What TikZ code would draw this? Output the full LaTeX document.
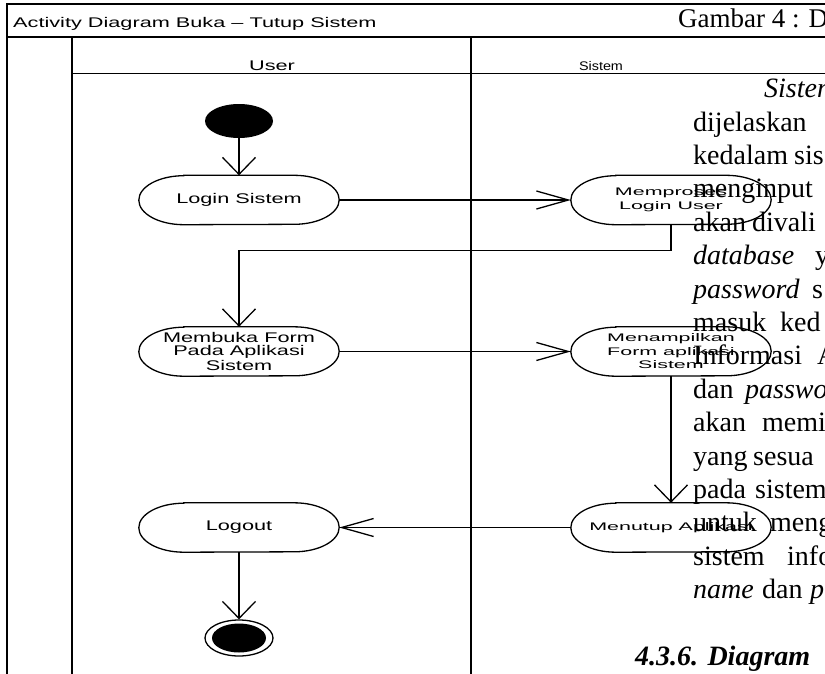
\documentclass[tikz,border=0pt]{standalone}
\usepackage{fontspec}
\setmainfont{Liberation Serif}
\newfontfamily\userfont[FakeStretch=1.55]{Liberation Sans}
\newfontfamily\sysfont[FakeStretch=1.95]{Liberation Sans}
\newfontfamily\headfont[FakeStretch=1.15]{Liberation Sans}
\usetikzlibrary{arrows.meta,shapes.geometric}

% a word followed by the gap that justification gave it
\newcommand\wordat[2]{\makebox[#2pt][l]{#1}}

\tikzset{
  frame/.style={line width=1.6pt},
  lane/.style={line width=1.3pt},
  act/.style={rectangle, minimum width=200pt, minimum height=49pt, inner sep=0pt, align=center},
  actu/.style={act, font=\userfont\fontsize{14pt}{13pt}\selectfont},
  acts/.style={act, font=\sysfont\fontsize{11pt}{13.5pt}\selectfont},
  outl/.style={line width=1.3pt},
  flow/.style={line width=1.3pt},
  harr/.style={flow, -{Straight Barb[length=32pt,width=18pt]}},
  varr/.style={flow, -{Straight Barb[length=17pt,width=33pt]}},
  body/.style={anchor=base west, inner sep=0pt, font=\fontsize{28pt}{28pt}\selectfont},
}

% stadium outline around an activity node
\newcommand\stadium[1]{%
  \draw[outl] ([xshift=45pt]#1.north west) -- ([xshift=-45pt]#1.north east)
    arc[start angle=90, end angle=-90, x radius=45pt, y radius=24.5pt]
    -- ([xshift=45pt]#1.south west)
    arc[start angle=270, end angle=90, x radius=45pt, y radius=24.5pt] -- cycle;}

\begin{document}
\begin{tikzpicture}[x=1pt, y=-1pt]
\useasboundingbox (0,0) rectangle (825,673);
\clip (0,0) rectangle (825,673);
\fill[white] (0,0) rectangle (825,673);

% frame, title bar and swimlanes
\draw[frame] (7,690) -- (7,4) -- (840,4);
\draw[frame] (7,37) -- (840,37);
\draw[lane] (72,37) -- (72,690);
\draw[lane] (471,37) -- (471,690);
\draw[line width=1pt] (72,73) -- (840,73);

\node[anchor=base west, inner sep=0pt, font=\userfont\fontsize{14pt}{14pt}\selectfont] (title) at (13,27) {Activity Diagram Buka – Tutup Sistem};
\node[anchor=base, inner sep=0pt, font=\userfont\fontsize{14pt}{14pt}\selectfont] (huser) at (272,70) {User};
\node[anchor=base, inner sep=0pt, font=\headfont\fontsize{12.5pt}{12.5pt}\selectfont] (hsys) at (601,70) {Sistem};

% initial and final states
\node[ellipse, fill=black, minimum width=68pt, minimum height=34pt, inner sep=0pt] (start) at (239,121) {};
\node[ellipse, draw, line width=1.3pt, fill=white, minimum width=68pt, minimum height=36pt, inner sep=0pt] (stop) at (239,638) {};
\fill (stop.center) ellipse [x radius=27pt, y radius=14.5pt];

% activities
\node[actu] (login) at (239,200) {Login Sistem};
\node[acts] (proses) at (671,200) {Memproses\\Login User};
\node[actu] (buka) at (239,351.5) {Membuka Form\\Pada Aplikasi\\Sistem};
\node[acts] (tampil) at (671,351.5) {Menampilkan\\Form aplikasi\\Sistem};
\node[actu] (logout) at (239,527.5) {Logout};
\node[acts] (tutup) at (671,527.5) {Menutup Aplikasi};
\stadium{login}
\stadium{proses}
\stadium{buka}
\stadium{tampil}
\stadium{logout}
\stadium{tutup}

% control flow
\draw[varr] (start) -- (login);
\draw[harr] (login) -- (proses);
\draw[varr] (proses.south) -- ++(0,26) -| (buka.north);
\draw[harr] (buka) -- (tampil);
\draw[varr] (tampil) -- (tutup);
\draw[harr] (tutup) -- (logout);
\draw[varr] (logout) -- (stop);

% page text running over the figure
\node[body, font=\fontsize{27pt}{27pt}\selectfont] (gambar) at (678,27) {Gambar 4 : D};
\node[body] (p0) at (764,97.6) {\textit{Sistem}};
\node[body] (p1) at (693,131) {dijelaskan};
\node[body] (p2) at (693,164.4) {\wordat{kedalam}{101}sis};
\node[body] (p3) at (693,197.8) {menginput};
\node[body] (p4) at (693,231.2) {\wordat{akan}{59}divali};
\node[body] (p5) at (693,264.6) {\wordat{\textit{database}}{122}y};
\node[body] (p6) at (693,298) {\wordat{\textit{password}}{119}s};
\node[body] (p7) at (693,331.4) {\wordat{masuk}{87}ked};
\node[body] (p8) at (693,364.8) {\wordat{Informasi}{124}A};
\node[body] (p9) at (693,398.2) {\wordat{dan}{52}\textit{passwo}};
\node[body] (p10) at (693,431.6) {\wordat{akan}{69}memi};
\node[body] (p11) at (693,465) {\wordat{yang}{60}sesua};
\node[body] (p12) at (693,498.4) {\wordat{pada}{62}sistem};
\node[body] (p13) at (693,531.8) {\wordat{untuk}{77}meng};
\node[body] (p14) at (693,565.2) {\wordat{sistem}{94}info};
\node[body] (p15) at (693,598.6) {\wordat{\textit{name}}{69}\wordat{dan}{48}\textit{p}};
\node[body] (p16) at (635,665.4) {\textbf{\textit{4.3.6. Diagram}}};
\end{tikzpicture}
\end{document}
